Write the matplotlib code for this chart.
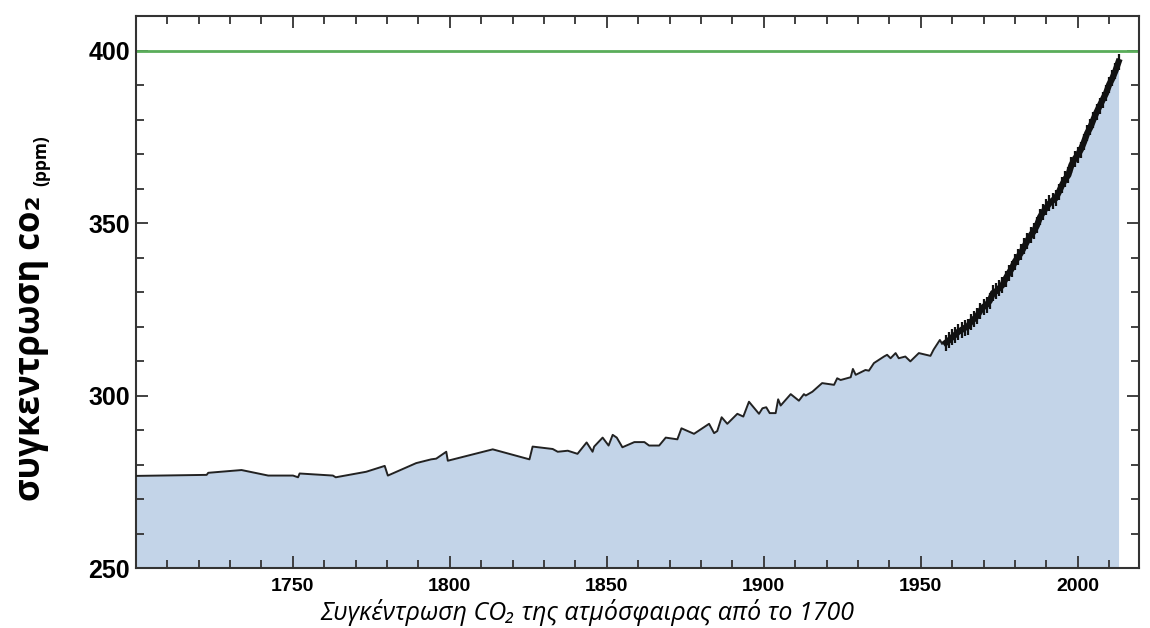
import matplotlib
matplotlib.use('Agg')
import matplotlib.pyplot as plt
from matplotlib.ticker import MultipleLocator

# ice core record
ice_years = [1700, 1722.6, 1723.1, 1733.7, 1742.2, 1750.1, 1751.7, 1752.2, 1762.8, 1763.7,
             1773.4, 1779.3, 1780.3, 1789.3, 1794.1, 1795.7, 1798.9, 1799.4, 1813.7, 1825.4,
             1826.4, 1832.8, 1834.4, 1837.6, 1840.7, 1843.6, 1845.5, 1846.0, 1848.7, 1850.6,
             1851.9, 1853.2, 1855.0, 1858.8, 1862.0, 1863.5, 1866.7, 1868.8, 1872.5, 1873.8,
             1877.8, 1882.6, 1884.2, 1885.2, 1886.6, 1888.4, 1891.6, 1893.5, 1895.3, 1898.5,
             1899.6, 1900.8, 1901.9, 1903.8, 1904.6, 1905.4, 1908.6, 1911.2, 1912.8, 1913.4,
             1915.5, 1918.6, 1922.4, 1923.4, 1924.5, 1927.7, 1928.4, 1929.3, 1932.4, 1933.5,
             1935.1, 1938.3, 1939.3, 1940.4, 1942.0, 1943.0, 1945.1, 1946.7, 1949.4, 1953.1,
             1954.1, 1956.1, 1956.8]
ice_ppm = [276.7, 277.0, 277.6, 278.4, 276.8, 276.8, 276.3, 277.4, 276.8, 276.3,
           277.9, 279.6, 276.8, 280.4, 281.5, 281.7, 283.7, 281.1, 284.4, 281.5,
           285.2, 284.5, 283.7, 284.0, 283.1, 286.4, 283.7, 285.2, 287.8, 285.5,
           288.6, 287.8, 285.0, 286.5, 286.5, 285.5, 285.5, 287.8, 287.3, 290.5,
           288.9, 291.8, 289.1, 289.7, 293.7, 291.8, 294.7, 293.9, 298.2, 294.7,
           296.3, 296.6, 294.9, 294.9, 298.9, 297.1, 300.4, 298.5, 300.4, 300.0,
           301.1, 303.6, 303.1, 305.0, 304.5, 305.3, 307.7, 306.0, 307.4, 307.2,
           309.4, 311.3, 311.8, 310.8, 312.3, 310.8, 311.3, 309.9, 312.3, 311.5,
           313.3, 316.1, 315.0]

# Mauna Loa record
ml_years = list(range(1958, 2014))
ml_ppm = [315.3, 316.0, 316.9, 317.6, 318.5, 319.0, 319.6, 320.0, 321.4, 322.2,
          323.1, 324.6, 325.7, 326.3, 327.5, 329.7, 330.2, 331.1, 332.0, 333.8,
          335.4, 336.8, 338.8, 340.1, 341.5, 343.2, 344.9, 346.4, 347.6, 349.3,
          351.7, 353.2, 354.5, 355.7, 356.5, 357.2, 359.0, 361.0, 362.7, 363.9,
          366.8, 368.5, 369.7, 371.3, 373.5, 376.0, 377.7, 380.0, 382.1, 384.0,
          385.8, 387.6, 390.1, 391.9, 394.1, 396.7]

all_years = ice_years + ml_years
all_ppm = ice_ppm + ml_ppm

fig = plt.figure(figsize=(11.5, 6.28), dpi=100)
ax = fig.add_axes([0.118, 0.0955, 0.8724, 0.879])

ax.fill_between(all_years, 250, all_ppm, color='#c3d4e8', lw=0, zorder=1)
ax.plot(ice_years, ice_ppm, color='#222222', lw=1.4, zorder=3)
ax.plot(ml_years, ml_ppm, color='#111111', lw=4.5, marker='|', markersize=11,
        markeredgewidth=1.6, zorder=3)
ax.axhline(400, color='#5aad5a', lw=2, zorder=2)

ax.set_xlim(1700, 2019.5)
ax.set_ylim(250, 410)
ax.set_xticks([1750, 1800, 1850, 1900, 1950, 2000])
ax.xaxis.set_minor_locator(MultipleLocator(10))
ax.set_yticks([250, 300, 350, 400])
ax.yaxis.set_minor_locator(MultipleLocator(10))

ax.tick_params(which='both', direction='in', top=True, right=True, color='#333333', width=1.3)
ax.tick_params(which='major', length=8.5)
ax.tick_params(which='minor', length=5.5)
ax.tick_params(axis='x', which='major', pad=7)
ax.tick_params(axis='y', which='major', pad=4)
for lab in ax.get_xticklabels():
    lab.set_fontfamily('Liberation Sans')
    lab.set_fontweight('bold')
    lab.set_fontsize(14)
for lab in ax.get_yticklabels():
    lab.set_fontfamily('Liberation Sans')
    lab.set_fontweight('bold')
    lab.set_fontsize(18)
for s in ax.spines.values():
    s.set_color('#333333')
    s.set_linewidth(1.5)

fig.text(0.027, 0.446, 'συγκεντρωση co₂', rotation=90, ha='center', va='center',
         fontsize=25, fontweight='bold', family=['Open Sans', 'DejaVu Sans'])
fig.text(0.036, 0.744, '(ppm)', rotation=90, ha='center', va='center',
         fontsize=12.5, fontweight='bold', family=['Open Sans', 'DejaVu Sans'])
fig.text(0.511, 0.025, 'Συγκέντρωση CO₂ της ατμόσφαιρας από το 1700', ha='center', va='center',
         fontsize=18, style='italic', family=['Open Sans', 'DejaVu Sans'])

fig.savefig('out.png', dpi=100)
